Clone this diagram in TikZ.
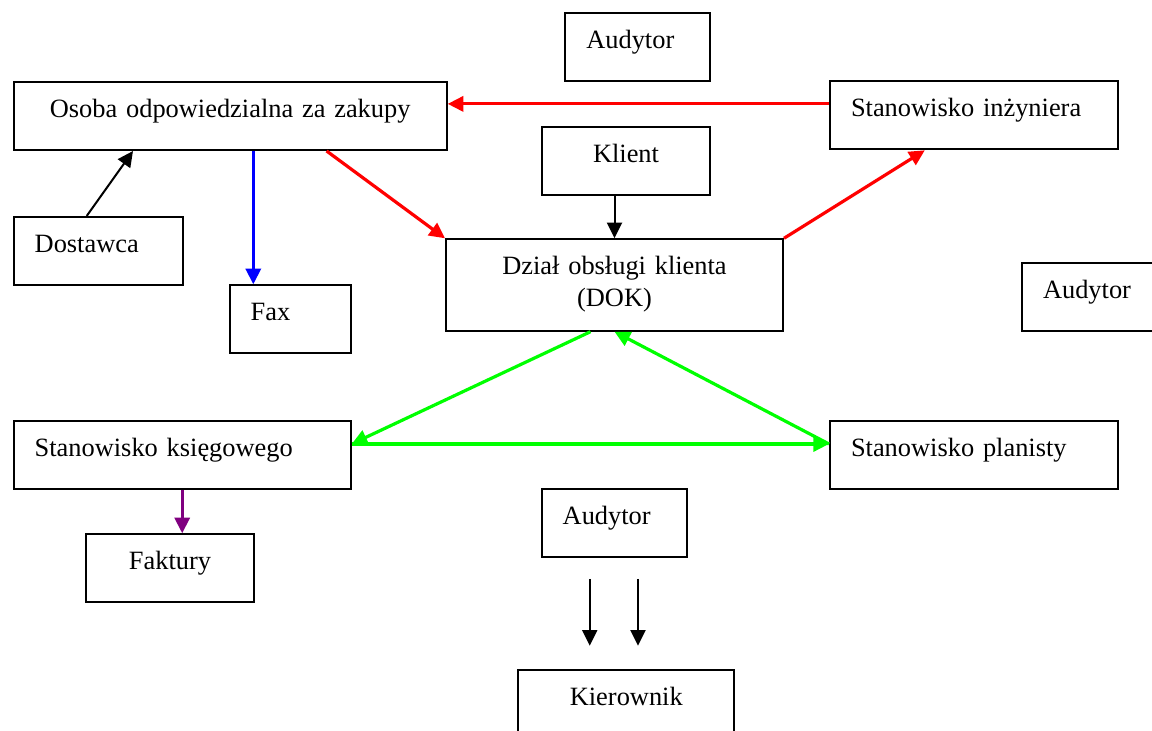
\documentclass[tikz,border=0pt]{standalone}
\usepackage{fontspec}
\setmainfont{Liberation Serif}
\usetikzlibrary{calc,positioning}
\usetikzlibrary{arrows.meta}
\definecolor{fiolet}{RGB}{128,0,128}
\tikzstyle{blok}=[draw, line width=1pt, anchor=north west, inner ysep=0pt, text height=17.75pt, text depth=16.25pt, font=\fontsize{13.2}{15.85}\selectfont]
\tikzstyle{wciety} = [blok, inner xsep=10.5pt, align=left]
\tikzstyle{srodek} = [blok, inner xsep=0pt, align=center]
\tikzstyle{strz} = [-{Triangle[length=7.8pt,width=7.5pt]}, line width=1pt]
\tikzstyle{gruba} = [strz, line width=1.6pt]

\begin{document}
\begin{tikzpicture}[x=0.5pt,y=-0.5pt]
\path [use as bounding box] (0,0) rectangle (1152,731);
\clip (0,0) rectangle (1152,731);

\node (audytor1) at (564.3,12.3) [wciety, text width=51.5pt] {Audytor};
\node (osoba) at (12.7,81) [srodek, text width=216.5pt] {Osoba odpowiedzialna za zakupy};
\node (inzynier) at (829,80.3) [wciety, text width=123pt] {Stanowisko inżyniera};
\node (klient) at (541,125.7) [srodek, text width=84pt] {Klient};
\node (dostawca) at (12.7,216) [wciety, text width=63.5pt] {Dostawca};
\node (fax) at (228.7,284.3) [wciety, text width=39.5pt] {Fax};
\node (dok) at (445,238.3) [srodek, text width=168.5pt, text depth=27.95pt] {Dział obsługi klienta\\(DOK)};
\node (audytor2) at (1021,261.7) [wciety, text width=51.5pt] {Audytor};
\node (ksiegowy) at (12.7,420) [wciety, text width=147.5pt] {Stanowisko księgowego};
\node (planista) at (829,420) [wciety, text width=123pt] {Stanowisko planisty};
\node (faktury) at (85,533.3) [srodek, text width=84pt] {Faktury};
\node (audytor3) at (540.7,487.7) [wciety, text width=51.5pt] {Audytor};
\node (kierownik) at (517.3,669.3) [srodek, text width=108pt] {Kierownik};

\coordinate (faxwe) at ([xshift=12.3pt]fax.north west);
\coordinate (a1) at ([xshift=-12.25pt,yshift=-10.65pt]audytor3.south);
\coordinate (a2) at ([xshift=11.9pt,yshift=-10.65pt]audytor3.south);
\coordinate (k0) at ([yshift=11.8pt]kierownik.north);

\draw [gruba, red] ([yshift=5.7pt]inzynier.west) -- ([yshift=5.7pt]inzynier.west -| osoba.east);
\draw [gruba, red] ([xshift=48.2pt]osoba.south) -- (dok.north west);
\draw [gruba, red] (dok.north east) -- ([xshift=-24.6pt]inzynier.south);
\draw [strz] ([xshift=-5.75pt]dostawca.north) -- ([xshift=-48.6pt]osoba.south);
\draw [gruba, blue] (faxwe |- osoba.south) -- (faxwe);
\draw [strz] (dok.north |- klient.south) -- (dok.north);

\draw [gruba, green] ([xshift=-12pt]dok.south) -- ([yshift=5.5pt]ksiegowy.east);
\draw [gruba, green] ([yshift=5.5pt]planista.west) -- (dok.south);
\draw [gruba, green] ([yshift=5.5pt]ksiegowy.east) -- ([yshift=5.5pt]planista.west);
\draw [gruba, fiolet] (ksiegowy.south) -- (ksiegowy.south |- faktury.north);

\draw [strz] (a1) -- (a1 |- k0);
\draw [strz] (a2) -- (a2 |- k0);

\end{tikzpicture}
\end{document}
